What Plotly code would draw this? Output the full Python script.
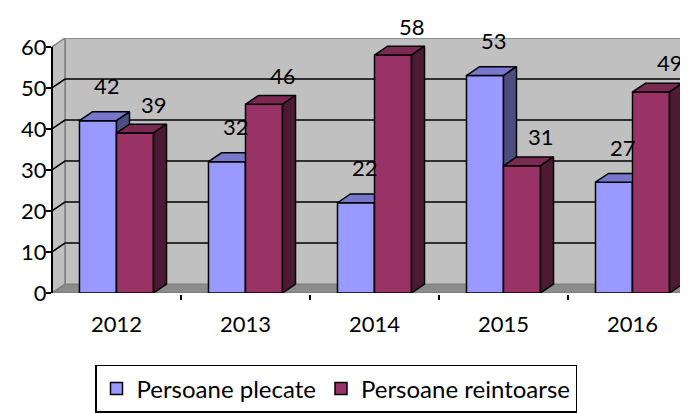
import plotly.graph_objects as go

# ---- data ----
years = ["2012", "2013", "2014", "2015", "2016"]
plecate = [42, 32, 22, 53, 27]
reintoarse = [39, 46, 58, 31, 49]
series_names = ["Persoane plecate", "Persoane reintoarse"]
y_ticks = [0, 10, 20, 30, 40, 50, 60]

# ---- geometry / style ----
# the page body has an 8px margin, so the figure is sized to fit the window
FIG_W, FIG_H = 680, 405
ML, MT, MB = 44, 30, 116
PLOT_W = FIG_W - ML
PLOT_H = FIG_H - MT - MB

FONT = "Lato"
FS = 22
LEG_FS = 24
W = 0.287            # bar width in category units
PX_X = 129           # px per category
PX_Y = 250 / 60      # px per value unit
DX = 13 / PX_X       # 3D depth, x (category units)
DY = 9 / PX_Y        # 3D depth, y (value units)
XL = -0.5
XR = -0.5 + PLOT_W / PX_X
YMAX = y_ticks[-1]

colors = {
    "front": ["#9999FF", "#993366"],
    "top": ["#7777CC", "#7A2952"],
    "side": ["#4D4D80", "#4D1A33"],
}
label_shift = [(9, 35), (19, 29)]

cats = list(range(len(years)))
fig = go.Figure()

all_series = [plecate, reintoarse]
offsets = [-W, 0.0]
for s, vals in enumerate(all_series):
    fig.add_trace(go.Bar(
        x=cats, y=vals, width=W, offset=offsets[s],
        name=series_names[s],
        marker=dict(color=colors["front"][s], line=dict(color="black", width=1.5)),
        zorder=2 * s, hoverinfo="skip",
    ))
    for c, h in zip(cats, vals):
        x0 = c + offsets[s]
        x1 = x0 + W
        # top face
        fig.add_trace(go.Scatter(
            x=[x0, x1, x1 + DX, x0 + DX, x0],
            y=[h, h, h + DY, h + DY, h],
            mode="lines", fill="toself", fillcolor=colors["top"][s],
            line=dict(color="black", width=1.5), showlegend=False,
            hoverinfo="skip", zorder=2 * s + 1,
        ))
        # side face
        fig.add_trace(go.Scatter(
            x=[x1, x1, x1 + DX, x1 + DX, x1],
            y=[0, h, h + DY, DY, 0],
            mode="lines", fill="toself", fillcolor=colors["side"][s],
            line=dict(color="black", width=1.5), showlegend=False,
            hoverinfo="skip", zorder=2 * s + 1,
        ))
        fig.add_annotation(
            x=x0 + W / 2, y=h, text=str(h), showarrow=False,
            xshift=label_shift[s][0], yshift=label_shift[s][1],
            font=dict(family=FONT, size=FS, color="black"),
        )

# ---- walls, floor, gridlines ----
shapes = []
XE = XR + 1
shapes.append(dict(
    type="path", xref="x", yref="y", layer="below",
    path=f"M{XL},0 L{XE},0 L{XE},{DY} L{XL + DX},{DY} Z",
    fillcolor="#8C8C8C", line=dict(color="#6E6E6E", width=1.2),
))
shapes.append(dict(
    type="path", xref="x", yref="y", layer="below",
    path=f"M{XL + DX},{DY} L{XE},{DY} L{XE},{YMAX + DY} L{XL + DX},{YMAX + DY} Z",
    fillcolor="#C0C0C0", line=dict(color="#808080", width=1.5),
))
shapes.append(dict(
    type="path", xref="x", yref="y", layer="below",
    path=f"M{XL},0 L{XL},{YMAX} L{XL + DX},{YMAX + DY} L{XL + DX},{DY} Z",
    fillcolor="#C0C0C0", line=dict(color="#808080", width=1.5),
))
for v in y_ticks[1:-1]:
    shapes.append(dict(
        type="path", xref="x", yref="y", layer="below",
        path=f"M{XL},{v} L{XL + DX},{v + DY} L{XE},{v + DY}",
        line=dict(color="black", width=1.5),
    ))
# front vertical axis line (0..60)
shapes.append(dict(
    type="line", xref="paper", yref="y", x0=0, x1=0, y0=0, y1=YMAX,
    line=dict(color="black", width=2), layer="above",
))

fig.update_layout(
    width=FIG_W, height=FIG_H,
    margin=dict(l=ML, r=0, t=MT, b=MB),
    paper_bgcolor="white", plot_bgcolor="white",
    font=dict(family=FONT, size=FS, color="black"),
    shapes=shapes,
    showlegend=True,
    legend=dict(
        orientation="h", x=(87 - ML) / PLOT_W, xanchor="left",
        y=(MT + PLOT_H - 362) / PLOT_H, yanchor="top",
        bordercolor="black", borderwidth=1.5,
        font=dict(family=FONT, size=LEG_FS, color="black"),
        itemwidth=30, traceorder="normal",
    ),
    xaxis=dict(
        range=[XL, XR], tickmode="array", tickvals=cats, ticktext=years,
        ticks="", showgrid=False, zeroline=False,
        showline=True, linecolor="black", linewidth=2,
        ticklabelstandoff=11,
        minor=dict(tickvals=[c + 0.5 for c in cats[:-1]], ticks="outside",
                   ticklen=5, tickwidth=2, tickcolor="black", showgrid=False),
        fixedrange=True,
    ),
    yaxis=dict(
        range=[0, YMAX + DY], tickmode="array", tickvals=y_ticks,
        ticks="outside", ticklen=5, tickwidth=2, tickcolor="black",
        ticklabelstandoff=-5,
        showgrid=False, zeroline=False, showline=False, fixedrange=True,
    ),
    bargap=0.4,
)

fig.write_html("out.html")
